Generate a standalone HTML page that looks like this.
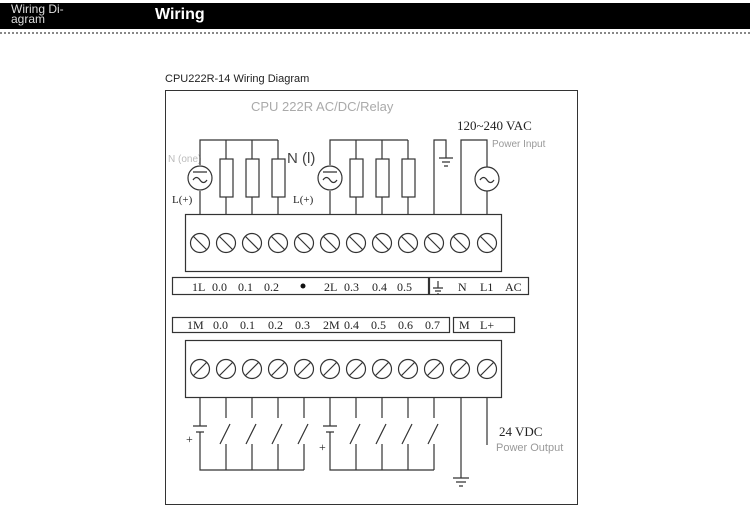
<!DOCTYPE html>
<html><head><style>
body{margin:0;width:750px;height:520px;background:#fff;overflow:hidden;position:relative;font-family:"Liberation Sans",sans-serif}
.hdr{position:absolute;left:0;top:3px;width:750px;height:26px;background:#000}
.dots{position:absolute;left:0;top:32px;width:750px;border-top:2px dotted #888}
</style></head><body>
<div class="hdr"></div>
<div style="position:absolute;left:11px;top:4px;color:#ddd;font-size:12px;line-height:10px">Wiring Di-<br>agram</div>
<div style="position:absolute;left:155px;top:6px;color:#fff;font-size:16px;font-weight:bold">Wiring</div>
<div class="dots"></div>
<svg width="750" height="520" style="position:absolute;left:0;top:0" font-family="Liberation Serif, serif">
<text x="165" y="82" font-family="Liberation Sans, sans-serif" font-size="11" fill="#222">CPU222R-14 Wiring Diagram</text>
<rect x="165.5" y="90.5" width="412" height="414" fill="none" stroke="#333"/>
<text x="251" y="111" font-family="Liberation Sans, sans-serif" font-size="13" fill="#aaa">CPU 222R AC/DC/Relay</text>
<text x="457" y="130" font-size="13" fill="#222">120~240 VAC</text>
<text x="492" y="147" font-family="Liberation Sans, sans-serif" font-size="10" fill="#999">Power Input</text>
<text x="168" y="162" font-family="Liberation Sans, sans-serif" font-size="10" fill="#bbb">N (one)</text>
<text x="287" y="163" font-family="Liberation Sans, sans-serif" font-size="15" fill="#444">N (l)</text>
<text x="172" y="203" font-size="11" fill="#222">L(+)</text>
<text x="293" y="203" font-size="11" fill="#222">L(+)</text>
<g stroke="#333" stroke-width="1.2" fill="none">
<path d="M200 214V191M200 165V140H278M226 140V214M252 140V214M278 140V214"/>
<path d="M330 214V191M330 165V140H408M356 140V214M382 140V214M408 140V214"/>
<path d="M434 214V140H446V158M439 158H453M442 162H450M444 166H448"/>
<path d="M461 214V140H487V167M487 191V214"/>
<g fill="#fff"><rect x="220" y="159" width="13" height="38"/><rect x="246" y="159" width="13" height="38"/><rect x="272" y="159" width="13" height="38"/>
<rect x="350" y="159" width="13" height="38"/><rect x="376" y="159" width="13" height="38"/><rect x="402" y="159" width="13" height="38"/>
<circle cx="200" cy="178" r="12"/><circle cx="330" cy="178" r="12"/><circle cx="487" cy="179" r="12"/></g>
<path d="M193 172H207M193 180q3.5-5 7 0t7 0M323 172H337M323 180q3.5-5 7 0t7 0M480 180q3.5-5 7 0t7 0"/>
<rect x="185.5" y="214.5" width="316" height="57"/>
<rect x="172.5" y="277.5" width="256" height="17"/><rect x="429.5" y="277.5" width="99" height="17"/>
<rect x="172.5" y="317.5" width="277" height="15"/><rect x="453.5" y="317.5" width="61" height="15"/>
<rect x="185.5" y="340.5" width="316" height="57"/>
<path d="M200 397V426M193 426H207M196 432H204M200 432V470H304M226 397V418M220 444L230 424M226 444V470M252 397V418M246 444L256 424M252 444V470M278 397V418M272 444L282 424M278 444V470M304 397V418M298 444L308 424M304 444V470"/>
<path d="M330 397V426M323 426H337M326 432H334M330 432V470H434M356 397V418M350 444L360 424M356 444V470M382 397V418M376 444L386 424M382 444V470M408 397V418M402 444L412 424M408 444V470M434 397V418M428 444L438 424M434 444V470"/>
<path d="M461 397V478M453 478H469M456 482H466M459 486H463M487 397V445"/>
</g>
<g stroke="#333" stroke-width="1.2" fill="none">
<circle cx="200" cy="243" r="9.5"/><circle cx="226" cy="243" r="9.5"/><circle cx="252" cy="243" r="9.5"/><circle cx="278" cy="243" r="9.5"/><circle cx="304" cy="243" r="9.5"/><circle cx="330" cy="243" r="9.5"/><circle cx="356" cy="243" r="9.5"/><circle cx="382" cy="243" r="9.5"/><circle cx="408" cy="243" r="9.5"/><circle cx="434" cy="243" r="9.5"/><circle cx="460" cy="243" r="9.5"/><circle cx="487" cy="243" r="9.5"/>
<path d="M193 236l14 14M219 236l14 14M245 236l14 14M271 236l14 14M297 236l14 14M323 236l14 14M349 236l14 14M375 236l14 14M401 236l14 14M427 236l14 14M453 236l14 14M480 236l14 14"/>
<circle cx="200" cy="369" r="9.5"/><circle cx="226" cy="369" r="9.5"/><circle cx="252" cy="369" r="9.5"/><circle cx="278" cy="369" r="9.5"/><circle cx="304" cy="369" r="9.5"/><circle cx="330" cy="369" r="9.5"/><circle cx="356" cy="369" r="9.5"/><circle cx="382" cy="369" r="9.5"/><circle cx="408" cy="369" r="9.5"/><circle cx="434" cy="369" r="9.5"/><circle cx="460" cy="369" r="9.5"/><circle cx="487" cy="369" r="9.5"/>
<path d="M193 376l14-14M219 376l14-14M245 376l14-14M271 376l14-14M297 376l14-14M323 376l14-14M349 376l14-14M375 376l14-14M401 376l14-14M427 376l14-14M453 376l14-14M480 376l14-14"/>
<path d="M438 281V288M433 288H443M435 291H441M437 294H439"/>
</g>
<g font-size="12" fill="#222">
<text x="192" y="291">1L</text><text x="212" y="291">0.0</text><text x="238" y="291">0.1</text><text x="264" y="291">0.2</text>
<circle cx="303" cy="286" r="2.5" fill="#111"/>
<text x="324" y="291">2L</text><text x="344" y="291">0.3</text><text x="372" y="291">0.4</text><text x="397" y="291">0.5</text>
<text x="458" y="291">N</text><text x="480" y="291">L1</text><text x="505" y="291">AC</text>
<text x="187" y="329">1M</text><text x="213" y="329">0.0</text><text x="240" y="329">0.1</text><text x="268" y="329">0.2</text><text x="295" y="329">0.3</text><text x="323" y="329">2M</text><text x="344" y="329">0.4</text><text x="371" y="329">0.5</text><text x="398" y="329">0.6</text><text x="425" y="329">0.7</text>
<text x="459" y="329">M</text><text x="480" y="329">L+</text>
<text x="186" y="443">+</text><text x="319" y="451">+</text>
<text x="499" y="436" font-size="13">24 VDC</text>
</g>
<text x="496" y="451" font-family="Liberation Sans, sans-serif" font-size="11" fill="#999">Power Output</text>
</svg>
</body></html>
